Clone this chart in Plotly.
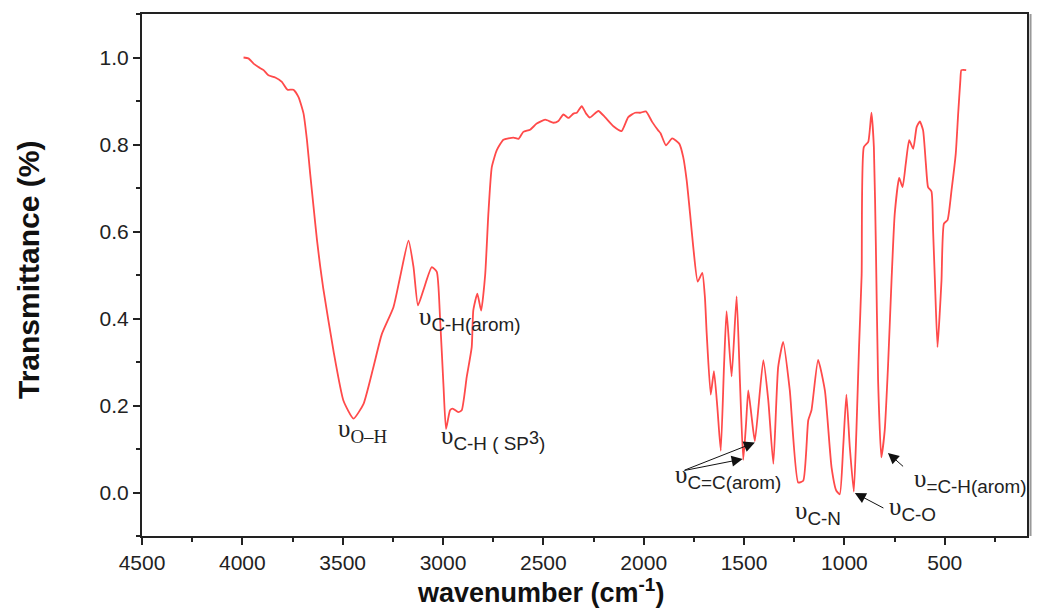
import plotly.graph_objects as go

# FTIR spectrum
wavenumber = [
    3994, 3970, 3944, 3920, 3894, 3870, 3836, 3803, 3775, 3745, 3720, 3695,
    3678, 3662, 3645, 3628, 3612, 3597, 3546, 3496, 3446, 3396, 3347, 3305,
    3247, 3214, 3172, 3147, 3125, 3098, 3056, 3031, 3015, 2998, 2985, 2965,
    2952, 2924, 2907, 2882, 2857, 2849, 2829, 2810, 2790, 2774, 2757, 2732,
    2699, 2649, 2624, 2600, 2566, 2533, 2491, 2450, 2425, 2400, 2375, 2350,
    2333, 2309, 2287, 2268, 2226, 2193, 2151, 2110, 2077, 2043, 2018, 1989,
    1958, 1927, 1916, 1889, 1858, 1823, 1803, 1786, 1769, 1753, 1731, 1708,
    1695, 1686, 1666, 1650, 1633, 1616, 1600, 1587, 1562, 1537, 1520, 1504,
    1490, 1479, 1462, 1446, 1404, 1379, 1354, 1330, 1305, 1272, 1230, 1205,
    1180, 1164, 1131, 1097, 1064, 1040, 1023, 1006, 990, 973, 953, 940,
    927, 914, 903, 881, 865, 853, 843, 832, 816, 799, 782, 765,
    749, 727, 710, 694, 677, 657, 640, 624, 608, 594, 583, 566,
    558, 549, 536, 525, 516, 504, 486, 466, 445, 433, 422, 417, 393,
]
transmittance = [
    1.000, 0.998, 0.986, 0.978, 0.971, 0.959, 0.954, 0.944, 0.926, 0.926, 0.909, 0.871,
    0.810, 0.733, 0.656, 0.580, 0.520, 0.470, 0.326, 0.211, 0.170, 0.204, 0.288, 0.364,
    0.426, 0.495, 0.579, 0.518, 0.430, 0.465, 0.518, 0.507, 0.403, 0.249, 0.146, 0.189,
    0.193, 0.185, 0.189, 0.265, 0.334, 0.419, 0.457, 0.418, 0.500, 0.641, 0.748, 0.787,
    0.811, 0.816, 0.813, 0.829, 0.834, 0.848, 0.857, 0.850, 0.854, 0.869, 0.861, 0.871,
    0.873, 0.888, 0.871, 0.862, 0.877, 0.863, 0.842, 0.831, 0.863, 0.873, 0.873, 0.876,
    0.852, 0.832, 0.826, 0.798, 0.814, 0.802, 0.771, 0.718, 0.641, 0.564, 0.485, 0.505,
    0.449, 0.365, 0.225, 0.279, 0.196, 0.096, 0.288, 0.417, 0.267, 0.451, 0.250, 0.075,
    0.158, 0.235, 0.173, 0.118, 0.304, 0.211, 0.066, 0.288, 0.346, 0.235, 0.023, 0.027,
    0.166, 0.189, 0.305, 0.234, 0.058, 0.004, -0.004, 0.104, 0.225, 0.104, 0.002, 0.143,
    0.334, 0.500, 0.794, 0.806, 0.873, 0.794, 0.564, 0.257, 0.081, 0.143, 0.296, 0.488,
    0.641, 0.723, 0.702, 0.756, 0.810, 0.790, 0.840, 0.853, 0.833, 0.756, 0.702, 0.692,
    0.603, 0.488, 0.334, 0.411, 0.488, 0.618, 0.626, 0.695, 0.779, 0.871, 0.948, 0.971, 0.971,
]

# band labels: (subscript text, x, y)
band_labels = [
    ("<span style='font-family:Liberation Serif'>O–H</span>", 3403, 0.142),
    ("C-H(arom)", 2865, 0.400),
    ("C-H ( SP</sub><span style='font-size:18px'>3</span><sub>)", 2752, 0.126),
    ("C=C(arom)", 1580, 0.036),
    ("C-N", 1132, -0.046),
    ("C-O", 662, -0.038),
    ("=C-H(arom)", 372, 0.027),
]
# arrows: (head x, head y, tail x, tail y)
band_arrows = [
    (1507, 0.077, 1804, 0.050),
    (1446, 0.115, 1804, 0.050),
    (948, -0.001, 798, -0.0375),
    (783, 0.091, 700, 0.057),
]

fig = go.Figure()
fig.add_trace(
    go.Scatter(
        x=wavenumber,
        y=transmittance,
        mode="lines",
        line=dict(color="#ff4a4a", width=1.8, shape="spline", smoothing=0.5),
        showlegend=False,
        hoverinfo="skip",
    )
)

for sub, x, y in band_labels:
    fig.add_annotation(
        x=x, y=y, xref="x", yref="y",
        text="<span style='font-family:Liberation Serif;font-size:25px'>υ</span><sub>" + sub + "</sub>",
        showarrow=False,
        font=dict(family="Arial", size=27, color="#222"),
    )

for hx, hy, tx, ty in band_arrows:
    fig.add_annotation(
        x=hx, y=hy, ax=tx, ay=ty, xref="x", yref="y", axref="x", ayref="y",
        text="", showarrow=True, arrowhead=2, arrowsize=2.2, arrowwidth=1,
        arrowcolor="#111", standoff=0,
    )

# axis titles placed as paper annotations (pixel centres, converted below)
fig.add_annotation(
    x=540, y=591, xref="paper", yref="paper", xanchor="center", yanchor="middle",
    text="<b>wavenumber (cm<sup>-1</sup>)</b>", showarrow=False,
    font=dict(family="Arial", size=27, color="#111"),
)
fig.add_annotation(
    x=28, y=270, xref="paper", yref="paper", xanchor="center", yanchor="middle",
    textangle=-90,
    text="<b>Transmittance (%)</b>", showarrow=False,
    font=dict(family="Arial", size=30, color="#111"),
)

axis_common = dict(
    showline=True, linecolor="#222", linewidth=2, mirror=True,
    ticks="outside", ticklen=7, tickwidth=2, tickcolor="#222",
    showgrid=False, zeroline=False, automargin=False,
    tickfont=dict(family="Arial", size=21, color="#222"),
)

fig.update_xaxes(
    range=[4500, 90], dtick=500, tick0=0,
    minor=dict(ticks="outside", ticklen=4, tickwidth=2, tickcolor="#222", dtick=250),
    **axis_common,
)
fig.update_yaxes(
    range=[-0.1, 1.1], dtick=0.2, tick0=0, tickformat=".1f",
    minor=dict(ticks="outside", ticklen=4, tickwidth=2, tickcolor="#222", dtick=0.1),
    **axis_common,
)

# faint shadow along the right frame edge
fig.add_shape(type="line", xref="paper", yref="paper", x0=1.004, x1=1.004, y0=0, y1=1,
              line=dict(color="#999", width=2))

fig.update_layout(
    width=1038, height=608,
    margin=dict(l=142, r=11, t=14, b=72),
    plot_bgcolor="white", paper_bgcolor="white",
)

# convert the pixel positions of the title annotations to paper fractions
pw, ph = 1038 - 142 - 11, 608 - 14 - 72
for ann in fig.layout.annotations:
    if ann.xref == "paper" and ann.x > 1:
        ann.x = (ann.x - 142) / pw
        ann.y = (608 - 72 - ann.y) / ph

fig.write_html(
    "out.html",
    config={"displayModeBar": False},
    post_script="document.body.style.margin='0';",
)
